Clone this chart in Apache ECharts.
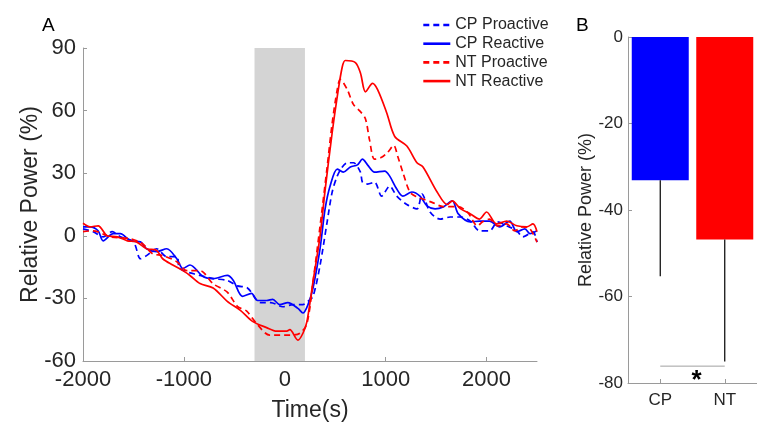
<!DOCTYPE html>
<html>
<head>
<meta charset="utf-8">
<script src="https://cdn.jsdelivr.net/npm/echarts@6/dist/echarts.min.js"></script>
<style>
html,body{margin:0;padding:0;background:#fff;}
#c{width:757px;height:427px;}
</style>
</head>
<body>
<div id="c"></div>
<script>
// ---- Panel A data (time in ms, relative power in %) ----
const cpProT = [-2000,-1900,-1800,-1710,-1630,-1500,-1430,-1370,-1270,-1170,-1070,-1040,-840,-710,-570,-470,-370,-240,-140,-20,80,180,230,280,350,420,470,520,570,620,680,750,770,820,890,960,1040,1110,1210,1310,1360,1440,1540,1640,1740,1840,1930,2030,2110,2200,2300,2360,2460,2500];
const cpProV = [3.3,2,-0.5,2,-0.5,-2.9,-11,-9.5,-6.2,-10,-10,-15.7,-19,-20.5,-21.4,-24,-25,-32,-32,-34,-33,-33,-31.4,-29,-14,6.7,21,28.6,33,35,35,30.5,25.7,24.8,25.7,19,23.8,19,15,12.9,20,11.4,8,9,9,7,2.4,2.4,6.7,4.8,2.4,-0.5,1.9,-3];

const cpReaT = [-2000,-1930,-1850,-1800,-1700,-1630,-1530,-1430,-1370,-1270,-1170,-1070,-1010,-940,-810,-710,-570,-510,-420,-330,-270,-180,-120,-50,30,130,180,230,280,350,400,450,520,580,650,720,770,820,890,990,1040,1110,1170,1260,1340,1410,1490,1570,1660,1720,1840,1930,2030,2130,2230,2300,2380,2430,2500];
const cpReaV = [4.3,4.3,2.4,-2.4,1,1,-2.4,-2.9,-6.2,-7.6,-6.2,-11,-15.7,-14,-19.5,-20.5,-19,-21.4,-29,-27.6,-31,-31,-30.5,-33,-32,-34.8,-37,-33,-25,-6,13,24,32,30.5,33,34,36.7,34,30.5,31,28.6,22.4,19,21,19,14.3,12.9,13.8,16.7,10.5,6.7,7,7,4.3,7,2,3.3,1,2.4];

const ntProT = [-2000,-1900,-1730,-1530,-1410,-1310,-1210,-1070,-970,-840,-710,-570,-470,-380,-280,-150,-50,50,150,220,280,350,420,470,520,550,620,680,750,800,840,890,960,1020,1080,1120,1170,1240,1310,1370,1460,1570,1710,1810,1910,1960,2030,2110,2200,2280,2360,2430,2500];
const ntProV = [2,2.4,-0.5,-1.4,-3.8,-8.6,-9.5,-12.4,-16.7,-16.7,-23,-27,-33.8,-36,-42,-47.6,-47.6,-47.6,-46.7,-42,-22,4.8,33,54,70,75,70,63,59.5,56,46,36.7,37.6,40,43.3,38,30.5,21,18.6,17.6,16,14,14,11.4,4.8,6.7,8,4.8,5.7,2.4,4.3,3.3,-3];

const ntReaT = [-2000,-1930,-1850,-1760,-1660,-1560,-1470,-1370,-1270,-1210,-1110,-1010,-940,-840,-710,-570,-440,-320,-180,-80,20,50,130,180,220,280,350,400,470,520,570,600,700,750,800,870,920,1010,1090,1210,1310,1370,1510,1610,1660,1740,1840,1930,2000,2100,2200,2300,2400,2460,2500];
const ntReaV = [6,4.3,4.8,0,-0.5,-2.4,-2.9,-6.2,-7,-11,-14,-16.7,-19,-22.9,-25,-31.4,-35.7,-41,-44,-45.7,-45.7,-45,-50,-46.7,-41,-22,0,22,49.5,66.7,81,84,83,78,69,73,70,59,47.6,43,35,33,21,15,16.7,13,10.5,8,11.4,5.7,7,4.8,4.3,5.7,2];

const stimWindow = [-300, 200];
const seriesNames = ['CP Proactive','CP Reactive','NT Proactive','NT Reactive'];

// ---- Panel B data ----
const groups = ['CP','NT'];
const groupMeans = [-33.1, -46.8];
const groupErrLow = [-55.3, -75];
const sigLevel = -76.1;

const zip = (t, v) => t.map((x, i) => [x, v[i]]);
const FONT = 'Arial, "Liberation Sans", sans-serif';
const TXT = '#262626';
const AX = '#9a9a9a';
const plain = v => String(v);

const chart = echarts.init(document.getElementById('c'), null, {renderer: 'canvas'});

function lineSeries(name, t, v, color, dashed) {
  return {
    name: name, type: 'line', xAxisIndex: 0, yAxisIndex: 0,
    data: zip(t, v), showSymbol: false, symbol: 'none', smooth: 0.3,
    z: 3, silent: true,
    lineStyle: {color: color, width: 1.7, type: dashed ? [6, 4] : 'solid'},
    itemStyle: {color: color}
  };
}

const option = {
  animation: false,
  backgroundColor: '#fff',
  textStyle: {fontFamily: FONT},
  title: [
    {text: 'A', left: 37, top: 11, textStyle: {fontSize: 19, fontWeight: 'normal', color: '#000', fontFamily: FONT}},
    {text: 'B', left: 571, top: 11, textStyle: {fontSize: 19, fontWeight: 'normal', color: '#000', fontFamily: FONT}}
  ],
  legend: {
    data: seriesNames,
    orient: 'vertical', left: 417, top: 12,
    itemWidth: 27, itemHeight: 15, itemGap: 2.7,
    itemStyle: {opacity: 0},
    lineStyle: {width: 2.6},
    textStyle: {fontSize: 16, color: TXT, fontFamily: FONT},
    selectedMode: false
  },
  grid: [
    {left: 83, top: 48, width: 454, height: 314},
    {left: 628, top: 37, width: 138.5, height: 346}
  ],
  xAxis: [
    {
      type: 'value', gridIndex: 0, min: -2000, max: 2500, interval: 1000,
      name: 'Time(s)', nameLocation: 'middle', nameGap: 38, nameMoveOverlap: false,
      nameTextStyle: {fontSize: 23, color: TXT, fontFamily: FONT},
      axisLine: {show: true, onZero: false, lineStyle: {color: AX, width: 1}},
      axisTick: {show: true, inside: true, length: 4, lineStyle: {color: AX}},
      axisLabel: {fontSize: 22, color: TXT, margin: 8, showMaxLabel: false, fontFamily: FONT, formatter: plain},
      splitLine: {show: false}
    },
    {
      type: 'category', gridIndex: 1, data: groups, boundaryGap: true,
      axisLine: {show: true, onZero: false, lineStyle: {color: AX, width: 1}},
      axisTick: {show: true, inside: true, length: 4, alignWithLabel: true, lineStyle: {color: AX}},
      axisLabel: {fontSize: 17, color: TXT, margin: 9, fontFamily: FONT},
      splitLine: {show: false}
    }
  ],
  yAxis: [
    {
      type: 'value', gridIndex: 0, min: -60, max: 90, interval: 30,
      name: 'Relative Power (%)', nameLocation: 'middle', nameGap: 41, nameMoveOverlap: false,
      nameTextStyle: {fontSize: 23, color: TXT, fontFamily: FONT},
      axisLine: {show: true, onZero: false, lineStyle: {color: AX, width: 1}},
      axisTick: {show: true, inside: true, length: 4, lineStyle: {color: AX}},
      axisLabel: {fontSize: 22, color: TXT, margin: 7, fontFamily: FONT, formatter: plain},
      splitLine: {show: false}
    },
    {
      type: 'value', gridIndex: 1, min: -80, max: 0, interval: 20,
      name: 'Relative Power (%)', nameLocation: 'middle', nameGap: 33, nameMoveOverlap: false,
      nameTextStyle: {fontSize: 18, color: TXT, fontFamily: FONT},
      axisLine: {show: true, onZero: false, lineStyle: {color: AX, width: 1}},
      axisTick: {show: true, inside: true, length: 4, lineStyle: {color: AX}},
      axisLabel: {fontSize: 17, color: TXT, margin: 5, fontFamily: FONT, formatter: plain},
      splitLine: {show: false}
    }
  ],
  series: [
    {
      name: 'stim', type: 'line', xAxisIndex: 0, yAxisIndex: 0, data: [], z: 1, silent: true,
      markArea: {
        silent: true,
        itemStyle: {color: '#d4d4d4'},
        data: [[{xAxis: stimWindow[0]}, {xAxis: stimWindow[1]}]]
      }
    },
    lineSeries(seriesNames[0], cpProT, cpProV, '#0000ff', true),
    lineSeries(seriesNames[1], cpReaT, cpReaV, '#0000ff', false),
    lineSeries(seriesNames[2], ntProT, ntProV, '#ff0000', true),
    lineSeries(seriesNames[3], ntReaT, ntReaV, '#ff0000', false),
    {
      name: 'bars', type: 'bar', xAxisIndex: 1, yAxisIndex: 1, barWidth: 57, silent: true,
      data: groupMeans.map((v, i) => ({value: v, itemStyle: {color: i === 0 ? '#0000ff' : '#ff0000'}}))
    },
    {
      name: 'err', type: 'custom', xAxisIndex: 1, yAxisIndex: 1, silent: true, z: 4,
      data: groupMeans.map((v, i) => [i, v, groupErrLow[i]]),
      renderItem: function (params, api) {
        const p1 = api.coord([api.value(0), api.value(1)]);
        const p2 = api.coord([api.value(0), api.value(2)]);
        return {type: 'line', shape: {x1: p1[0], y1: p1[1], x2: p2[0], y2: p2[1]},
                style: {stroke: '#000', lineWidth: 1.2}};
      }
    },
    {
      name: 'sig', type: 'custom', xAxisIndex: 1, yAxisIndex: 1, silent: true, z: 4,
      data: [[0, 1, sigLevel]],
      renderItem: function (params, api) {
        const a = api.coord([api.value(0), api.value(2)]);
        const b = api.coord([api.value(1), api.value(2)]);
        return {type: 'group', children: [
          {type: 'line', shape: {x1: a[0], y1: a[1], x2: b[0], y2: b[1]}, style: {stroke: '#a0a0a0', lineWidth: 1}},
          {type: 'text', style: {text: '*', x: (a[0] + b[0]) / 2 + 4, y: a[1] + 2, fontSize: 26, fontWeight: 'bold',
            fill: '#000', align: 'center', verticalAlign: 'top', fontFamily: FONT}}
        ]};
      }
    }
  ]
};
chart.setOption(option);
</script>
</body>
</html>
